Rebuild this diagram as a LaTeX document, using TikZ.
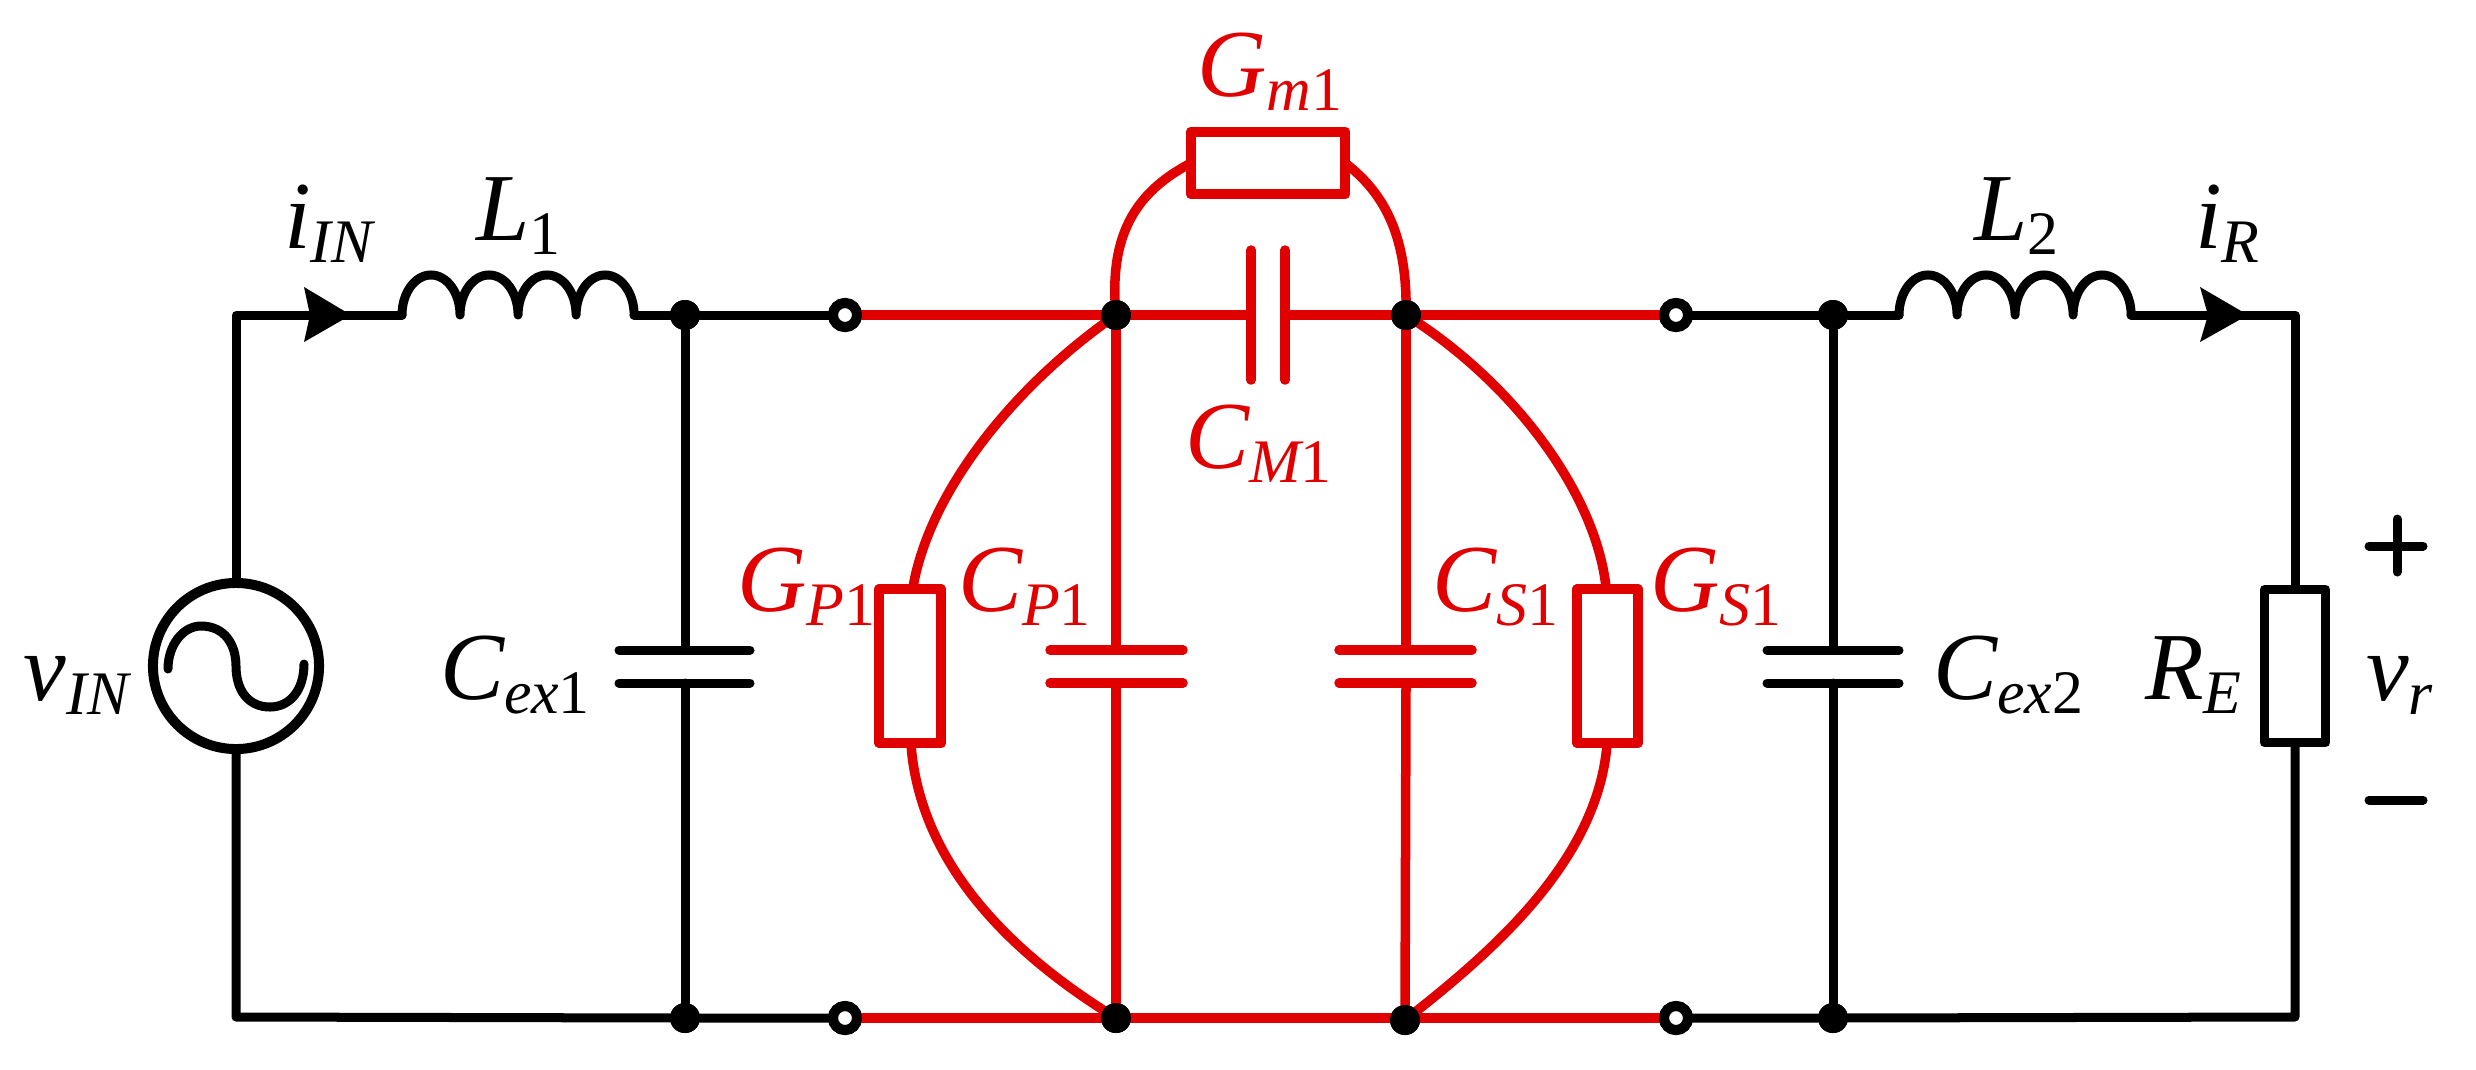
\documentclass[tikz,border=0pt]{standalone}
\usepackage{fontspec}
\font\mainit="Liberation Serif/I" at 27.3pt
\font\subit="Liberation Serif/I" at 17.6pt
\font\subrm="Liberation Serif" at 17.6pt
\definecolor{cred}{HTML}{E00000}
\newcommand{\lab}[2]{{\mainit #1}\raisebox{-0.14cm}{\subrm #2}}
\newcommand{\itl}[1]{{\subit #1}}
\tikzset{
  blk/.style={draw=black,line width=.09cm,line cap=round,line join=round},
  red/.style={draw=cred,line width=.095cm,line cap=round,line join=round},
  jdot/.style={circle,fill=black,inner sep=0pt,outer sep=0pt,minimum size=.3cm},
  term/.style={circle,draw=black,fill=white,line width=.1cm,inner sep=0pt,outer sep=0pt,minimum size=.24cm},
  res/.style={rectangle,line width=.1cm,inner sep=0pt,outer sep=0pt,line join=round},
  txt/.style={anchor=base west,inner sep=0pt,outer sep=0pt},
  rtxt/.style={txt,text=cred}
}
\begin{document}
\begin{tikzpicture}[x=.01cm,y=-.01cm]
\useasboundingbox (0,0) rectangle (2476,1069);
% corners and component terminals
\coordinate (tl) at (236,315); \coordinate (bl) at (236,1017);
\coordinate (tr) at (2295,315); \coordinate (br) at (2295,1017);
\coordinate (l1a) at (402,315); \coordinate (l1b) at (634,315);
\coordinate (l2a) at (1899,315); \coordinate (l2b) at (2131,315);
\coordinate (cx1t) at (685,650); \coordinate (cx1b) at (685,683);
\coordinate (cp1t) at (1116,650); \coordinate (cp1b) at (1116,683);
\coordinate (cs1t) at (1406,650); \coordinate (cs1b) at (1406,683);
\coordinate (cx2t) at (1833,650); \coordinate (cx2b) at (1833,683);
\coordinate (cmL) at (1251,315); \coordinate (cmR) at (1285,315);
% nodes
\node[circle,draw=black,line width=.1cm,inner sep=0pt,outer sep=0pt,minimum size=1.66cm] (src) at (236,666) {};
\node[jdot] (a1) at (685,315) {};
\node[jdot] (a2) at (685,1018) {};
\node[jdot] (n1) at (1116,315) {};
\node[jdot] (n2) at (1406,315) {};
\node[jdot] (n3) at (1116,1018) {};
\node[jdot] (n4) at (1405,1020) {};
\node[jdot] (a3) at (1833,315) {};
\node[jdot] (a4) at (1833,1018) {};
\node[term] (t1) at (845,315) {};
\node[term] (t2) at (1676,315) {};
\node[term] (t3) at (845,1018) {};
\node[term] (t4) at (1676,1018) {};
\node[res,draw=cred,minimum width=1.54cm,minimum height=.62cm] (gm) at (1268,163) {};
\node[res,draw=cred,minimum width=.62cm,minimum height=1.53cm] (gp) at (910,666) {};
\node[res,draw=cred,minimum width=.61cm,minimum height=1.53cm] (gs) at (1607.5,666) {};
\node[res,draw=black,line width=.09cm,minimum width=.61cm,minimum height=1.53cm] (re) at (2295,666) {};
% red wires
\draw[red] (t1) -- (n1) -- (cmL);
\draw[red] (cmR) -- (n2) -- (t2);
\draw[red] (t3) -- (n3) -- (1405,1018) -- (t4);
\draw[red] (n1) -- (cp1t); \draw[red] (cp1b) -- (n3);
\draw[red] (n2) -- (cs1t); \draw[red] (cs1b) -- (n4);
\draw[red] (1251,250) -- (1251,380);
\draw[red] (1285,250) -- (1285,380);
\draw[red] (1050,650) -- (1183,650); \draw[red] (1050,683) -- (1183,683);
\draw[red] (1339,650) -- (1472,650); \draw[red] (1339,683) -- (1472,683);
\draw[red] (n1.center) .. controls (1108,230) and (1140,190) .. (gm.west);
\draw[red] (n2.center) .. controls (1408,230) and (1380,190) .. (gm.east);
\draw[red] (n1.center) .. controls (1015,385) and (930,490) .. (913,587);
\draw[red] (911,745) .. controls (920,860) and (1005,950) .. (n3.center);
\draw[red] (n2.center) .. controls (1510,380) and (1595,490) .. (1606,587);
\draw[red] (1607,745) .. controls (1597,860) and (1495,950) .. (n4.center);
% redraw nodes above the red wires
\node[res,draw=cred,minimum width=1.54cm,minimum height=.62cm] at (gm) {};
\node[res,draw=cred,minimum width=.62cm,minimum height=1.53cm] at (gp) {};
\node[res,draw=cred,minimum width=.61cm,minimum height=1.53cm] at (gs) {};
\node[jdot] at (n1) {}; \node[jdot] at (n2) {}; \node[jdot] at (n3) {}; \node[jdot] at (n4) {};
% black wires
\draw[blk] (src) -- (tl) -- (l1a);
\draw[blk] (l1b) -- (a1) -- (t1);
\draw[blk] (src) -- (bl) -- (a2) -- (t3);
\draw[blk] (a1) -- (cx1t); \draw[blk] (cx1b) -- (a2);
\draw[blk] (t2) -- (a3) -- (l2a);
\draw[blk] (l2b) -- (tr) -- (re);
\draw[blk] (re) -- (br) -- (a4) -- (t4);
\draw[blk] (a3) -- (cx2t); \draw[blk] (cx2b) -- (a4);
\node[jdot] at (a1) {}; \node[jdot] at (a2) {}; \node[jdot] at (a3) {}; \node[jdot] at (a4) {};
\node[term] at (t1) {}; \node[term] at (t2) {}; \node[term] at (t3) {}; \node[term] at (t4) {};
% capacitor plates
\draw[blk] (619,650) -- (750,650); \draw[blk] (619,683) -- (750,683);
\draw[blk] (1767,650) -- (1899,650); \draw[blk] (1767,683) -- (1899,683);
% inductors
\foreach \s in {l1a,l2a}{
\draw[blk] (\s) arc[start angle=180,end angle=0,x radius=.29cm,y radius=.4cm]
  arc[start angle=180,end angle=0,x radius=.29cm,y radius=.4cm]
  arc[start angle=180,end angle=0,x radius=.29cm,y radius=.4cm]
  arc[start angle=180,end angle=0,x radius=.29cm,y radius=.4cm];
}
% arrows
\fill[black] (351,315) -- (304,287) -- (310,315) -- (304,342) -- cycle;
\fill[black] (2248,315) -- (2200,287) -- (2208,315) -- (2200,342) -- cycle;
% source sine
\draw[blk] (168,669) .. controls (168,645) and (183,626) .. (201,626) .. controls (225,626) and (236,645) .. (236,666) .. controls (236,690) and (248,707) .. (270,707) .. controls (290,707) and (304,690) .. (304,664);
% plus and minus
\draw[blk] (2369,546) -- (2423,546); \draw[blk] (2397,519) -- (2397,572);
\draw[blk] (2369,800) -- (2423,800);
% labels
\node[txt] (lvin) at (24,700) {\lab{v}{\itl{IN}}};
\node[txt] (liin) at (284,248) {\lab{i}{\itl{IN}}};
\node[txt] (ll1) at (476,240) {\lab{L}{1}};
\node[txt] (lcx1) at (440,699) {\lab{C}{\itl{ex}1}};
\node[rtxt] (lgp) at (737,611) {\lab{G}{\itl{P}1}};
\node[rtxt] (lcp) at (958,611) {\lab{C}{\itl{P}1}};
\node[rtxt] (lgm) at (1197,96) {\lab{G}{\itl{m}1}};
\node[rtxt] (lcm) at (1185,468) {\lab{C}{\itl{M}1}};
\node[rtxt] (lcs) at (1432,611) {\lab{C}{\itl{S}1}};
\node[rtxt] (lgs) at (1650,611) {\lab{G}{\itl{S}1}};
\node[txt] (lcx2) at (1933,699) {\lab{C}{\itl{ex}2}};
\node[txt] (ll2) at (1974,240) {\lab{L}{2}};
\node[txt] (lir) at (2195,248) {\lab{i}{\itl{R}}};
\node[txt] (lre) at (2145,699) {\lab{R}{\itl{E}}};
\node[txt] (lvr) at (2366,700) {\lab{v}{\itl{r}}};
\end{tikzpicture}
\end{document}
